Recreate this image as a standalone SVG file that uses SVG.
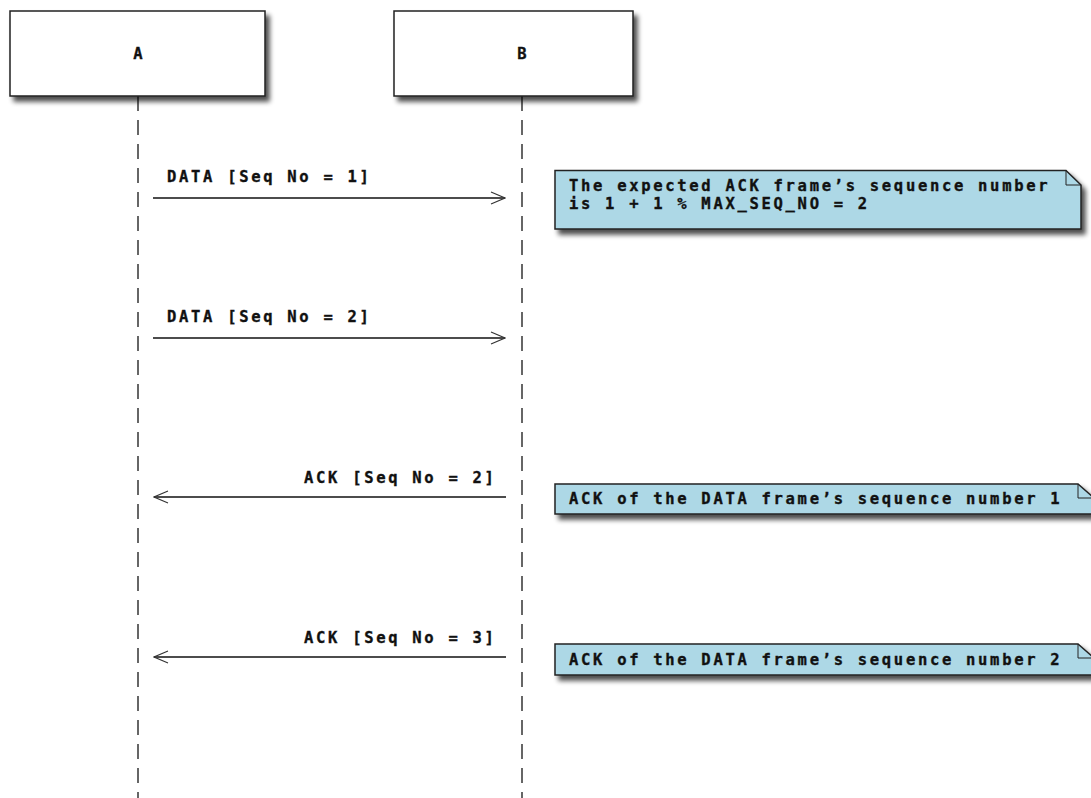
<svg xmlns="http://www.w3.org/2000/svg" width="1091" height="798" viewBox="0 0 1091 798">
<defs>
<filter id="sh" x="-5%" y="-20%" width="115%" height="160%">
<feGaussianBlur in="SourceAlpha" stdDeviation="2.5"/>
<feOffset dx="4" dy="5" result="b"/>
<feComponentTransfer><feFuncA type="linear" slope="0.7"/></feComponentTransfer>
<feMerge><feMergeNode/><feMergeNode in="SourceGraphic"/></feMerge>
</filter>
<marker id="ah" viewBox="0 0 16 14" refX="15" refY="7" markerWidth="16" markerHeight="14" markerUnits="userSpaceOnUse" orient="auto">
<path d="M1,1 L15,7 L1,13" fill="none" stroke="#333" stroke-width="1.1"/>
</marker>
</defs>
<style>
.box{fill:#fff;stroke:#222;stroke-width:1.5}
.note{fill:#add8e6;stroke:#222;stroke-width:1.5}
.fold{fill:none;stroke:#222;stroke-width:1}
.life{stroke:#666;stroke-width:2;stroke-dasharray:15 9}
.msg{stroke:#111;stroke-width:1.3;fill:none;marker-end:url(#ah)}
text{font-family:"DejaVu Sans Mono","Liberation Mono",monospace;font-weight:bold;font-size:15.5px;fill:#111;stroke:#111;stroke-width:0.35;letter-spacing:2.7px}
.lbl{letter-spacing:0}
</style>
<rect width="1091" height="798" fill="#fff"/>
<g id="lifelines">
<line class="life" x1="138" y1="96" x2="138" y2="798"/>
<line class="life" x1="522" y1="96" x2="522" y2="798"/>
</g>
<g id="A">
<rect class="box" x="10" y="11" width="255" height="85" filter="url(#sh)"/>
<text class="lbl" x="138" y="59" text-anchor="middle">A</text>
</g>
<g id="B">
<rect class="box" x="394" y="11" width="239" height="85" filter="url(#sh)"/>
<text class="lbl" x="522" y="59" text-anchor="middle">B</text>
</g>
<g id="connectors">
<line class="msg" x1="153" y1="198" x2="505" y2="198"/>
<text x="167" y="182">DATA [Seq No = 1]</text>
<line class="msg" x1="153" y1="338" x2="505" y2="338"/>
<text x="167" y="322">DATA [Seq No = 2]</text>
<line class="msg" x1="506" y1="497" x2="154" y2="497"/>
<text x="304" y="483">ACK [Seq No = 2]</text>
<line class="msg" x1="506" y1="657" x2="154" y2="657"/>
<text x="304" y="643">ACK [Seq No = 3]</text>
</g>
<g id="note1">
<path class="note" d="M555,170.5 H1066 L1081,185 V229 H555 Z" filter="url(#sh)"/>
<path class="fold" d="M1066,170.5 V185 H1081"/>
<text x="569" y="191">The expected ACK frame’s sequence number</text>
<text x="569" y="209">is 1 + 1 % MAX_SEQ_NO = 2</text>
</g>
<g id="note2">
<path class="note" d="M555,484 H1078 L1094,498 V514 H555 Z" filter="url(#sh)"/>
<path class="fold" d="M1078,484 V498 H1094"/>
<text x="569" y="504">ACK of the DATA frame’s sequence number 1</text>
</g>
<g id="note3">
<path class="note" d="M555,644 H1078 L1094,658 V675 H555 Z" filter="url(#sh)"/>
<path class="fold" d="M1078,644 V658 H1094"/>
<text x="569" y="665">ACK of the DATA frame’s sequence number 2</text>
</g>
</svg>
